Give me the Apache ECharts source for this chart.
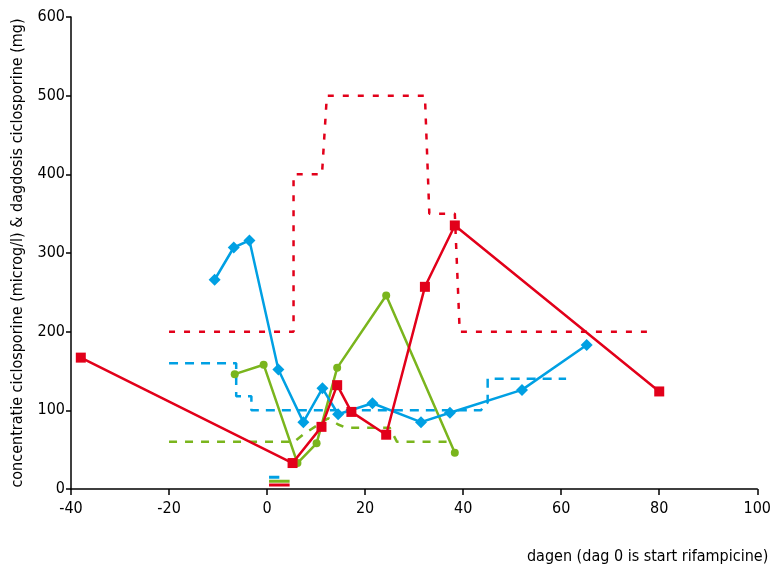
<!DOCTYPE html>
<html>
<head>
<meta charset="utf-8">
<script src="https://cdn.jsdelivr.net/npm/echarts@6/dist/echarts.min.js"></script>
<style>html,body{margin:0;padding:0;background:#fff}#c{width:774px;height:571px}</style>
</head>
<body>
<div id="c"></div>
<script>
// Ciclosporine concentration (microg/l) per day
const redConc = [[-38,167],[5.2,33],[11.1,79],[14.3,132],[17.2,98],[24.3,69],[32.2,257],[38.3,335],[80,124]];
const blueConc = [[-10.7,266],[-6.8,307],[-3.6,316],[2.3,152],[7.4,85],[11.3,128],[14.5,95],[21.5,109],[31.4,85],[37.3,97],[52,126],[65.2,183]];
const greenConc = [[-6.6,146],[-0.7,158],[6.2,33],[10.1,58],[14.3,154],[24.3,246],[38.3,46]];
// Daily dose ciclosporine (mg), step lines
const redDose = [[-20,200],[5.4,200],[5.4,400],[11.2,400],[12.2,500],[32.2,500],[33.1,350],[38.3,350],[39.3,200],[78,200]];
const blueDose = [[-20,160],[-6.3,160],[-6.3,118],[-3.2,118],[-3.2,100],[43.6,100],[45,110],[45,140],[61,140]];
const greenDose = [[-20,60],[5.5,60],[7.5,70],[12.5,90],[14.5,82],[16,78],[25,78],[26.5,60],[37,60]];
// small markers near the x-axis
const blueBar = [[0.4,15],[2.5,15]];
const greenBar = [[0.4,10],[4.6,10]];
const redBar = [[0.4,5],[4.6,5]];

const xTicks = [-40,-20,0,20,40,60,80,100];
const yTicks = [0,100,200,300,400,500,600];

const RED = '#e2001a', BLUE = '#00a0e3', GREEN = '#7ab51d';
const FONT = '"Liberation Sans Narrow","DejaVu Sans Condensed","Noto Sans",sans-serif';

const chart = echarts.init(document.getElementById('c'));
function lineS(data, color, opts) {
  return Object.assign({
    type: 'line', data: data, silent: true, animation: false,
    lineStyle: { color: color, width: 2.5 },
    itemStyle: { color: color },
    z: 3
  }, opts || {});
}
chart.setOption({
  backgroundColor: '#fff',
  animation: false,
  grid: { left: 71, right: 15, top: 17, bottom: 82, containLabel: false },
  xAxis: {
    type: 'value', min: xTicks[0], max: xTicks[xTicks.length-1], interval: 20,
    axisLine: { show: true, onZero: false, lineStyle: { color: '#000', width: 1.5 } },
    axisTick: { show: true, inside: false, length: 6, lineStyle: { color: '#000', width: 1.5 } },
    axisLabel: { color: '#000', fontSize: 16, fontFamily: FONT, margin: 12 },
    splitLine: { show: false },
    name: 'dagen (dag 0 is start rifampicine)',
    nameLocation: 'end',
    nameTextStyle: { color: '#000', fontSize: 16, fontFamily: FONT, align: 'right', verticalAlign: 'top', padding: [60, 0, 0, 0] },
    nameGap: 11
  },
  yAxis: {
    type: 'value', min: yTicks[0], max: yTicks[yTicks.length-1], interval: 100,
    axisLine: { show: true, onZero: false, lineStyle: { color: '#000', width: 1.5 } },
    axisTick: { show: true, inside: false, length: 5, lineStyle: { color: '#000', width: 1.5 } },
    axisLabel: { color: '#000', fontSize: 16, fontFamily: FONT, margin: 6 },
    splitLine: { show: false },
    name: 'concentratie ciclosporine (microg/l) & dagdosis ciclosporine (mg)',
    nameLocation: 'middle', nameGap: 45,
    nameTextStyle: { color: '#000', fontSize: 16, fontFamily: FONT }
  },
  series: [
    lineS(redDose, RED, { showSymbol: false, symbol: 'none', lineStyle: { color: RED, width: 2.5, type: [6, 9] }, z: 2 }),
    lineS(blueDose, BLUE, { showSymbol: false, symbol: 'none', lineStyle: { color: BLUE, width: 2.5, type: [9, 7] }, z: 2 }),
    lineS(greenDose, GREEN, { showSymbol: false, symbol: 'none', lineStyle: { color: GREEN, width: 2.5, type: [8, 8] }, z: 2 }),
    lineS(greenConc, GREEN, { symbol: 'circle', symbolSize: 8 }),
    lineS(blueConc, BLUE, { symbol: 'diamond', symbolSize: 12 }),
    lineS(redConc, RED, { symbol: 'rect', symbolSize: 10 }),
    lineS(blueBar, BLUE, { symbol: 'none', lineStyle: { color: BLUE, width: 3 } }),
    lineS(greenBar, GREEN, { symbol: 'none', lineStyle: { color: GREEN, width: 3 } }),
    lineS(redBar, RED, { symbol: 'none', lineStyle: { color: RED, width: 3 } })
  ]
});
</script>
</body>
</html>
